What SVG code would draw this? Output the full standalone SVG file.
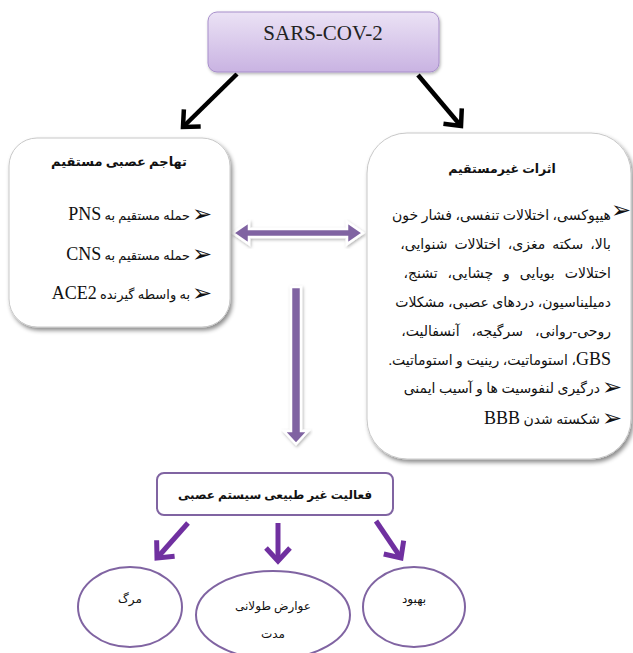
<svg xmlns="http://www.w3.org/2000/svg" width="633" height="653" viewBox="0 0 633 653">
<defs>
<linearGradient id="topg" x1="0" y1="0" x2="0" y2="1">
<stop offset="0" stop-color="#ebe2f5"/>
<stop offset="1" stop-color="#c9b3e2"/>
</linearGradient>
<filter id="sh" x="-10%" y="-10%" width="125%" height="125%">
<feDropShadow dx="2" dy="3" stdDeviation="2" flood-color="#000" flood-opacity="0.45"/>
</filter>
<filter id="sh2" x="-10%" y="-10%" width="130%" height="130%">
<feDropShadow dx="1" dy="1.5" stdDeviation="1.5" flood-color="#000" flood-opacity="0.3"/>
</filter>
<marker id="blk" viewBox="-16 -14 20 28" markerWidth="20" markerHeight="28" refX="0" refY="0" orient="auto" markerUnits="userSpaceOnUse">
<path d="M-13,-12 L0,0 L-13,12" fill="none" stroke="#000" stroke-width="4.5"/>
</marker>
<marker id="pur" viewBox="-16 -14 20 28" markerWidth="20" markerHeight="28" refX="0" refY="0" orient="auto" markerUnits="userSpaceOnUse">
<path d="M-13,-12 L0,0 L-13,12" fill="none" stroke="#7030a0" stroke-width="5"/>
</marker>
</defs>
<style>
.fa{font-family:"Liberation Serif","DejaVu Sans",serif;fill:#111;}
.b{font-weight:bold;}
.box{fill:#fff;stroke:#c8c8c8;stroke-width:1;}
.pbox{fill:#fff;stroke:#8064a2;stroke-width:2;}
.bul{font-family:"DejaVu Sans",sans-serif;font-size:24px;fill:#111;text-anchor:middle;}
.lat{font-size:18px;}
</style>
<rect width="633" height="653" fill="#fff"/>

<g id="connectors">
<line x1="237" y1="74" x2="183" y2="127" stroke="#000" stroke-width="4.5" marker-end="url(#blk)"/>
<line x1="418" y1="75" x2="461" y2="126" stroke="#000" stroke-width="4.5" marker-end="url(#blk)"/>
<path d="M233,233 L249,222 L249,229 L347,229 L347,222 L363,233 L347,244 L347,237 L249,237 L249,244 Z" fill="#8064a2" stroke="#fff" stroke-width="2.5" filter="url(#sh2)"/>
<path d="M291,287 L301,287 L301,431 L308,431 L296,444 L284,431 L291,431 Z" fill="#8064a2" stroke="#fff" stroke-width="2.5" filter="url(#sh2)"/>
<line x1="188" y1="523" x2="157" y2="558" stroke="#7030a0" stroke-width="5" marker-end="url(#pur)"/>
<line x1="278" y1="523" x2="278" y2="561" stroke="#7030a0" stroke-width="5" marker-end="url(#pur)"/>
<line x1="376" y1="521" x2="401" y2="558" stroke="#7030a0" stroke-width="5" marker-end="url(#pur)"/>
</g>

<g id="sars">
<rect x="208" y="12" width="231" height="60" rx="9" fill="url(#topg)" stroke="#a88fcb" stroke-width="1" filter="url(#sh2)"/>
<text x="323" y="40" font-family="Liberation Serif,serif" font-size="21" text-anchor="middle" fill="#222">SARS-COV-2</text>
</g>

<g id="direct">
<rect x="9" y="138" width="221" height="189" rx="28" class="box" filter="url(#sh)"/>
<text class="fa b" x="119" y="166" font-size="13" text-anchor="middle" direction="rtl">تهاجم عصبی مستقیم</text>
<text class="bul" x="202" y="222">➢</text>
<text class="fa" x="190" y="220" font-size="13" direction="rtl" text-anchor="start">حمله مستقیم به <tspan class="lat">PNS</tspan></text>
<text class="bul" x="202" y="262">➢</text>
<text class="fa" x="190" y="260" font-size="13" direction="rtl" text-anchor="start">حمله مستقیم به <tspan class="lat">CNS</tspan></text>
<text class="bul" x="202" y="301">➢</text>
<text class="fa" x="190" y="299" font-size="13" direction="rtl" text-anchor="start">به واسطه گیرنده <tspan class="lat">ACE2</tspan></text>
</g>

<g id="indirect">
<rect x="367" y="133" width="264" height="326" rx="40" class="box" filter="url(#sh)"/>
<text class="fa b" x="502" y="173" font-size="12.5" text-anchor="middle" direction="rtl">اثرات غیرمستقیم</text>
<text class="bul" x="621" y="218">➢</text>
<text class="fa" x="611" y="220" font-size="14" direction="rtl" text-anchor="start">هیپوکسی، اختلالات تنفسی، فشار خون</text>
<text class="fa" x="611" y="249" font-size="14" direction="rtl" text-anchor="start" word-spacing="3.5">بالا، سکته مغزی، اختلالات شنوایی،</text>
<text class="fa" x="611" y="278" font-size="14" direction="rtl" text-anchor="start" word-spacing="6.5">اختلالات بویایی و چشایی، تشنج،</text>
<text class="fa" x="611" y="307" font-size="14" direction="rtl" text-anchor="start">دمیلیناسیون، دردهای عصبی، مشکلات</text>
<text class="fa" x="611" y="336" font-size="14" direction="rtl" text-anchor="start" word-spacing="8.5">روحی-روانی، سرگیجه، آنسفالیت،</text>
<text class="fa" x="611" y="365" font-size="14" direction="rtl" text-anchor="start"><tspan class="lat">GBS</tspan>، استوماتیت، رینیت و استوماتیت.</text>
<text class="bul" x="612" y="395">➢</text>
<text class="fa" x="600" y="393" font-size="14" direction="rtl" text-anchor="start">درگیری لنفوسیت ها و آسیب ایمنی</text>
<text class="bul" x="612" y="426">➢</text>
<text class="fa" x="600" y="424" font-size="14" direction="rtl" text-anchor="start">شکسته شدن <tspan class="lat">BBB</tspan></text>
</g>

<g id="abnormal">
<rect x="157" y="473" width="236" height="42" rx="7" class="pbox"/>
<text class="fa b" x="275" y="499" font-size="12" text-anchor="middle" direction="rtl">فعالیت غیر طبیعی سیستم عصبی</text>
</g>

<g id="death">
<ellipse cx="130" cy="607" rx="52" ry="40" class="pbox"/>
<text class="fa" x="130" y="603" font-size="12" text-anchor="middle" direction="rtl">مرگ</text>
</g>

<g id="longterm">
<ellipse cx="273" cy="615" rx="77" ry="44" class="pbox"/>
<text class="fa" x="273" y="610" font-size="12" text-anchor="middle" direction="rtl">عوارض طولانی</text>
<text class="fa" x="273" y="638" font-size="12" text-anchor="middle" direction="rtl">مدت</text>
</g>

<g id="recovery">
<ellipse cx="414" cy="607" rx="51" ry="40" class="pbox"/>
<text class="fa" x="414" y="603" font-size="12" text-anchor="middle" direction="rtl">بهبود</text>
</g>
</svg>
